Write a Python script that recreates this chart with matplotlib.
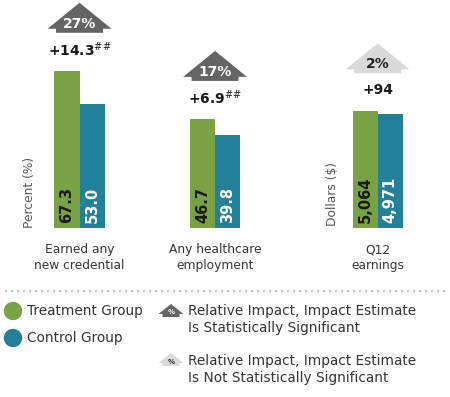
import matplotlib
matplotlib.use("Agg")
import matplotlib.pyplot as plt
from matplotlib.patches import Polygon, Circle
from matplotlib.transforms import ScaledTranslation

# data
pct_cats = ["Earned any\nnew credential", "Any healthcare\nemployment"]
pct_treat = [67.3, 46.7]
pct_ctrl = [53.0, 39.8]
pct_impact = ["+14.3", "+6.9"]
pct_rel = ["27%", "17%"]
pct_sig = [True, True]

usd_cats = ["Q12\nearnings"]
usd_treat = [5064]
usd_ctrl = [4971]
usd_impact = ["+94"]
usd_rel = ["2%"]
usd_sig = [False]

GREEN = "#79a245"
TEAL = "#23809a"
DARK_ARROW = "#646464"
LIGHT_ARROW = "#d9d9d9"
TXT = "#333333"

W, H = 450, 397
fig = plt.figure(figsize=(W / 100, H / 100), dpi=100)
plt.rcParams['font.family'] = ['DejaVu Sans']

base = 228
ax1 = fig.add_axes([0, (H - base) / H, 1, base / H])
ax2 = ax1.twinx()
for a in (ax1, ax2):
    a.set_axis_off()
    a.patch.set_visible(False)
ax1.set_xlim(-0.587, 2.734)
ax1.set_ylim(0, 97.6)
ax2.set_ylim(0, 9900)

bw = 0.185


def px(x, y):
    return x / W, 1 - y / H


def inch(x, y):
    return x / 100, (H - y) / 100


def up_arrow(ax, xc, ytop, label, sig):
    # shape in inches relative to top of bars
    tr = fig.dpi_scale_trans + ScaledTranslation(xc, ytop, ax.transData)
    s = 0.01
    verts = [(-23.5 * s, 38 * s), (23.5 * s, 38 * s), (23.5 * s, 42 * s),
             (32 * s, 42 * s), (0, 68 * s), (-32 * s, 42 * s),
             (-23.5 * s, 42 * s)]
    col = DARK_ARROW if sig else LIGHT_ARROW
    ax.add_patch(Polygon(verts, closed=True, transform=tr, color=col, lw=0,
                         clip_on=False))
    ax.text(0, 47 * s, label, transform=tr, ha="center", va="center",
            fontsize=10, fontweight="bold",
            color="white" if sig else "#222222")


def draw_group(ax, xs, treat, ctrl, impact, rel, sig, fmt):
    for i, x in enumerate(xs):
        ax.bar(x - bw / 2, treat[i], bw, color=GREEN)
        ax.bar(x + bw / 2, ctrl[i], bw, color=TEAL)
        lo = ax.get_ylim()[1] * 0.022
        ax.text(x - bw / 2, lo, fmt(treat[i]), rotation=90, ha="center",
                va="bottom", fontsize=10.5, fontweight="bold", color="#1a1a1a")
        ax.text(x + bw / 2, lo, fmt(ctrl[i]), rotation=90, ha="center",
                va="bottom", fontsize=10.5, fontweight="bold", color="white")
        top = max(treat[i], ctrl[i])
        tr = fig.dpi_scale_trans + ScaledTranslation(x, top, ax.transData)
        lab = impact[i] + (r"$^{\#\#}$" if sig[i] else "")
        ax.text(0, 0.21, lab, transform=tr, ha="center", va="center",
                fontsize=10, fontweight="bold", color="#1a1a1a")
        up_arrow(ax, x, top, rel[i], sig[i])


draw_group(ax1, [0, 1], pct_treat, pct_ctrl, pct_impact, pct_rel, pct_sig,
           lambda v: f"{v:.1f}")
draw_group(ax2, [2.2], usd_treat, usd_ctrl, usd_impact, usd_rel, usd_sig,
           lambda v: f"{v:,}")

for x, c in zip([0, 1, 2.2], pct_cats + usd_cats):
    ax1.text(x, -6.5, c, ha="center", va="top", fontsize=8.8, color=TXT,
             linespacing=1.3, clip_on=False)

fig.text(*px(30, 192), "Percent (%)", rotation=90, ha="center", va="center",
         fontsize=8.8, color="#555555")
fig.text(*px(333, 194), "Dollars ($)", rotation=90, ha="center", va="center",
         fontsize=8.8, color="#555555")

# dotted separator
fig.add_artist(plt.Line2D([5 / W, 447 / W], [1 - 291 / H] * 2,
                          color="#b9c9cd", lw=1.6, ls=(0, (1, 1.7))))

# legend
fig.add_artist(Circle(inch(13, 311), 8.5 / 100, color=GREEN,
                      transform=fig.dpi_scale_trans))
fig.add_artist(Circle(inch(13, 338), 8.5 / 100, color=TEAL,
                      transform=fig.dpi_scale_trans))
fig.text(*px(27, 311), "Treatment Group", ha="left", va="center",
         fontsize=9.8, color=TXT)
fig.text(*px(27, 338), "Control Group", ha="left", va="center",
         fontsize=9.8, color=TXT)

for yc, col, tc in [(311, DARK_ARROW, "white"), (360, LIGHT_ARROW, "#333333")]:
    cx, cy = inch(171, yc)
    s = 0.01
    v = [(cx - 8.5 * s, cy - 6 * s), (cx + 8.5 * s, cy - 6 * s),
         (cx + 8.5 * s, cy - 3 * s), (cx + 12.5 * s, cy - 3 * s),
         (cx, cy + 7 * s), (cx - 12.5 * s, cy - 3 * s),
         (cx - 8.5 * s, cy - 3 * s)]
    fig.add_artist(Polygon(v, closed=True, color=col, lw=0,
                           transform=fig.dpi_scale_trans))
    fig.text(*px(171, yc + 1.5), "%", ha="center", va="center",
             fontsize=5, fontweight="bold", color=tc)

fig.text(*px(188, 311), "Relative Impact, Impact Estimate", ha="left",
         va="center", fontsize=9.8, color=TXT)
fig.text(*px(188, 328), "Is Statistically Significant", ha="left",
         va="center", fontsize=9.8, color=TXT)
fig.text(*px(188, 361), "Relative Impact, Impact Estimate", ha="left",
         va="center", fontsize=9.8, color=TXT)
fig.text(*px(188, 378), "Is Not Statistically Significant", ha="left",
         va="center", fontsize=9.8, color=TXT)

fig.savefig("out.png", dpi=100, facecolor="white")
